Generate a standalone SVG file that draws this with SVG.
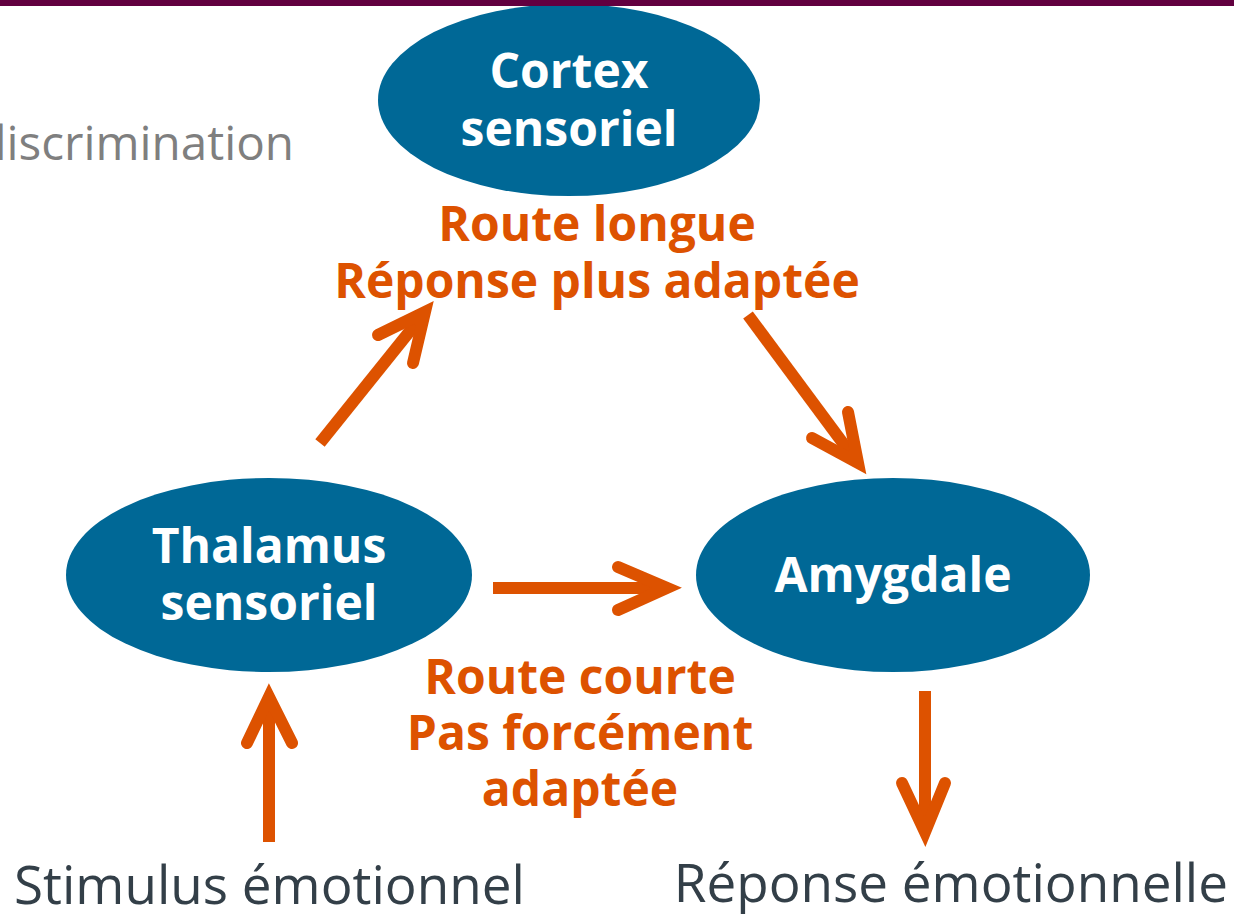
<svg xmlns="http://www.w3.org/2000/svg" width="1234" height="914" viewBox="0 0 1234 914">
<style>
.node{fill:#006896}
.nt{font-family:"Open Sans","Liberation Sans",sans-serif;font-weight:bold;font-size:48px;fill:#ffffff;text-anchor:middle}
.lab{font-family:"Open Sans","Liberation Sans",sans-serif;font-weight:bold;font-size:48px;fill:#DD5200;text-anchor:middle}
.big{font-family:"Open Sans","Liberation Sans",sans-serif;font-size:53px;fill:#333F48}
.shaft{stroke:#DD5200;stroke-width:12;fill:none;stroke-linecap:butt}
.head{stroke:#DD5200;stroke-width:12;fill:none;stroke-linecap:round;stroke-linejoin:miter;stroke-miterlimit:10}
</style>
<rect x="0" y="0" width="1234" height="914" fill="#ffffff"/>
<text x="294" y="160" font-family="'Open Sans','Liberation Sans',sans-serif" font-size="47.6" fill="#7F7F7F" text-anchor="end">discrimination</text>
<g id="cortex">
<ellipse class="node" cx="569" cy="100" rx="191" ry="96"/>
<text class="nt" x="569" y="88">Cortex</text>
<text class="nt" x="569" y="146">sensoriel</text>
</g>
<g id="thalamus">
<ellipse class="node" cx="269" cy="575" rx="203" ry="97"/>
<text class="nt" x="269" y="563">Thalamus</text>
<text class="nt" x="269" y="620">sensoriel</text>
</g>
<g id="amygdale">
<ellipse class="node" cx="893" cy="575" rx="197" ry="97"/>
<text class="nt" x="893" y="592">Amygdale</text>
</g>
<g id="labels">
<text class="lab" x="597" y="241">Route longue</text>
<text class="lab" x="597" y="298">Réponse plus adaptée</text>
<text class="lab" x="580" y="694">Route courte</text>
<text class="lab" x="580" y="750">Pas forcément</text>
<text class="lab" x="580" y="806">adaptée</text>
<text class="big" x="14" y="904">Stimulus émotionnel</text>
<text class="big" x="1228" y="902" text-anchor="end">Réponse émotionnelle</text>
</g>
<g id="connectors">
<line class="shaft" x1="320" y1="443" x2="418" y2="321"/>
<polyline class="head" points="378,335 425,312 413,363"/>
<line class="shaft" x1="748" y1="315" x2="851" y2="454"/>
<polyline class="head" points="812,438 858,463 848,412"/>
<line class="shaft" x1="493" y1="588" x2="660" y2="588"/>
<polyline class="head" points="618,567 667,588 618,610"/>
<line class="shaft" x1="925" y1="691" x2="925" y2="825"/>
<polyline class="head" points="902,783 925,832 945,783"/>
<line class="shaft" x1="269" y1="842" x2="269" y2="704"/>
<polyline class="head" points="247,743 269,697 292,743"/>
</g>
<rect x="0" y="0" width="1234" height="6" fill="#620040"/>
</svg>
